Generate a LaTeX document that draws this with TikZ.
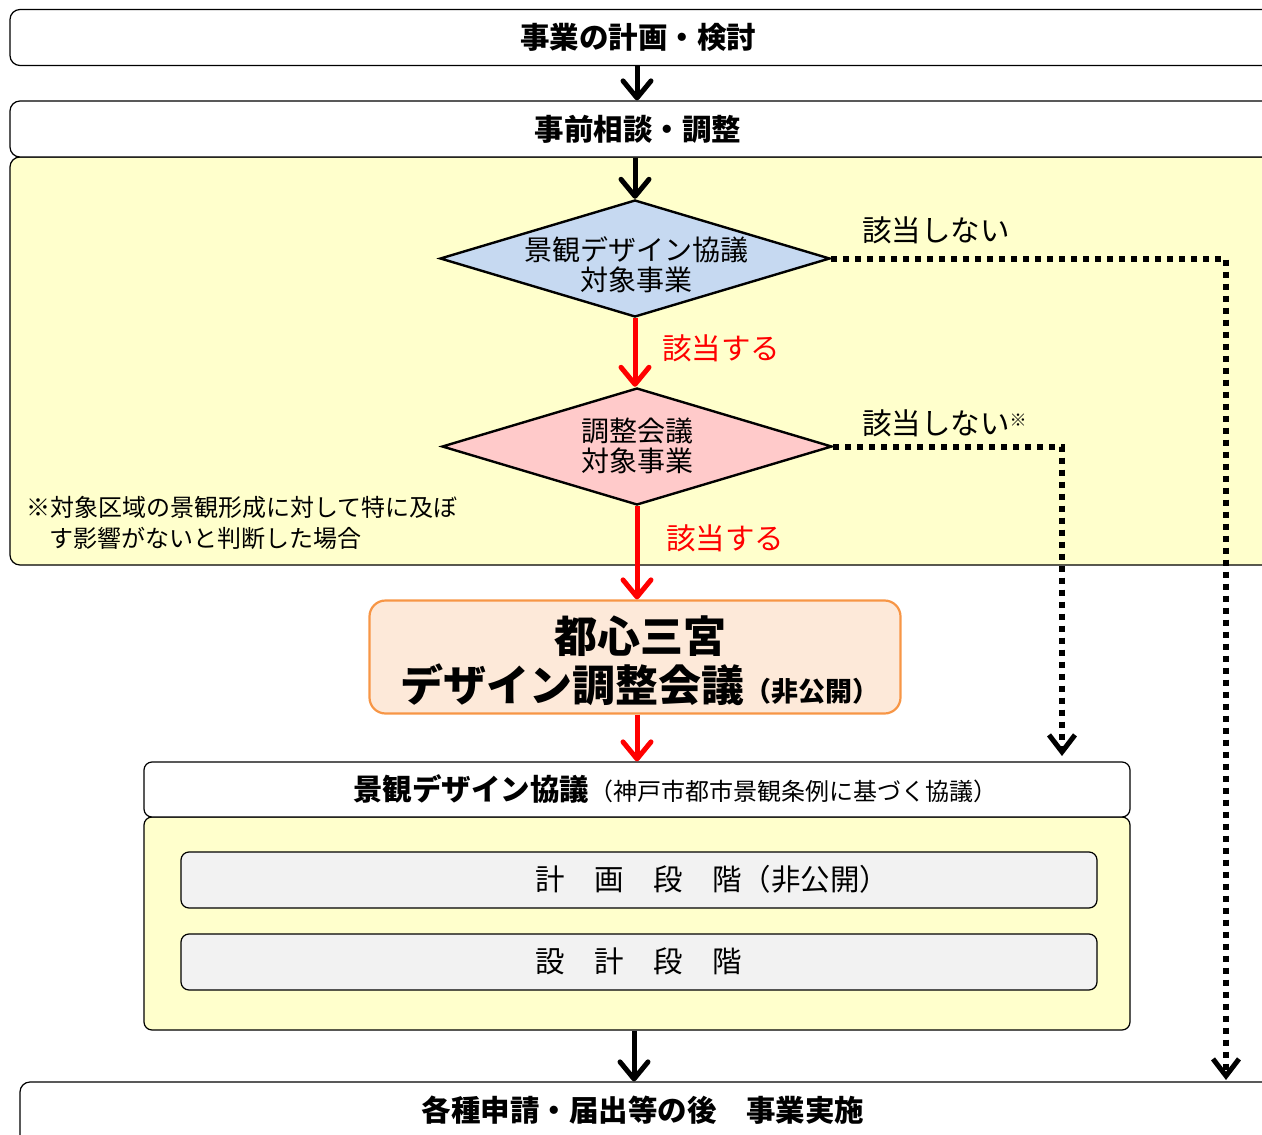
\documentclass[tikz,border=0pt]{standalone}
\usepackage{fontspec}
\setmainfont{Noto Sans CJK JP}
\usetikzlibrary{arrows.meta,shapes.geometric}
\definecolor{yel}{HTML}{FFFFCC}
\definecolor{dblue}{HTML}{C6D9F1}
\definecolor{dpink}{HTML}{FFCACA}
\definecolor{orfill}{HTML}{FDE9D9}
\definecolor{ordraw}{HTML}{F79646}
\definecolor{grayfill}{HTML}{F2F2F2}
\definecolor{tred}{HTML}{FF0000}
\newcommand\myfs[2]{\fontsize{#1pt}{#2pt}\selectfont}
\tikzset{
  boxbase/.style={draw=black, line width=1.2pt, rectangle, inner sep=0pt},
  whitebox/.style={boxbase, fill=white, rounded corners=10pt},
  yelbox/.style={boxbase, fill=yel, rounded corners=10pt},
  stagebox/.style={boxbase, fill=grayfill, rounded corners=8pt},
  decision/.style={diamond, draw=black, line width=2.4pt, inner sep=0pt, minimum width=390pt, minimum height=117pt},
  conn/.style={line width=5pt, -{Straight Barb[length=17pt,width=28pt,line width=5pt,round]}},
  redconn/.style={conn, draw=tred},
  dotconn/.style={line width=6pt, dash pattern=on 6pt off 6pt, -{Straight Barb[length=17pt,width=26pt,line width=5pt]}},
  lbl/.style={inner sep=0pt, font=\myfs{29.5}{32}},
  redlbl/.style={lbl, text=tred},
}
\begin{document}
\begin{tikzpicture}[x=1pt,y=-1pt]
\useasboundingbox (0,0) rectangle (1262,1135);
\clip (0,0) rectangle (1262,1135);

% top box
\node[whitebox, minimum width=1280pt, minimum height=56pt] (plan) at (650,37.5) {};
\node[inner sep=0pt, font=\myfs{29.5}{32}\bfseries] (plant) at (638,37.5) {事業の計画・検討};

% pre-consultation group
\node[yelbox, minimum width=1280pt, minimum height=408pt] (prebody) at (650,361) {};
\node[whitebox, minimum width=1280pt, minimum height=56pt] (pre) at (650,129) {};
\node[inner sep=0pt, font=\myfs{29.5}{32}\bfseries] (pret) at (638,129) {事前相談・調整};

% decisions
\node[decision, fill=dblue] (d1) at (635,258.5) {};
\node[inner sep=0pt, align=center, font=\myfs{28}{30}] (d1t) at (636,265) {景観デザイン協議\\対象事業};
\node[decision, fill=dpink] (d2) at (637,446.5) {};
\node[inner sep=0pt, align=center, font=\myfs{28}{30}] (d2t) at (637,446) {調整会議\\対象事業};

% labels
\node[lbl, anchor=west] (no1) at (862,230) {該当しない};
\node[lbl, anchor=west] (no2) at (862,423) {該当しない{\myfs{17}{17}\raisebox{8pt}{※}}};
\node[redlbl, anchor=west] (yes1) at (662,348) {該当する};
\node[redlbl, anchor=west] (yes2) at (666,538) {該当する};

% note
\node[inner sep=0pt, anchor=west, align=left, font=\myfs{24}{31}] (note) at (26,522.5)
  {※対象区域の景観形成に対して特に及ぼ\\\hspace*{23pt}す影響がないと判断した場合};

% orange box
\node[draw=ordraw, fill=orfill, line width=2.2pt, rounded corners=16pt, inner sep=0pt,
      minimum width=531pt, minimum height=113pt] (org) at (635,657) {};
\node[inner sep=0pt, align=center, font=\myfs{43}{49}\bfseries] (orgt) at (640,661)
  {都心三宮\\デザイン調整会議{\myfs{27}{27}（非公開）}};

% landscape design consultation group
\node[yelbox, rounded corners=8pt, minimum width=986pt, minimum height=213pt] (kb) at (637,923.5) {};
\node[whitebox, rounded corners=8pt, minimum width=986pt, minimum height=55pt] (kh) at (637,789.5) {};
\node[inner sep=0pt, font=\myfs{24}{26}] (kht) at (675,789)
  {{\myfs{29.5}{30}\bfseries 景観デザイン協議}（神戸市都市景観条例に基づく協議）};
\node[stagebox, minimum width=916pt, minimum height=56pt] (s1) at (639,880) {};
\node[stagebox, minimum width=916pt, minimum height=56pt] (s2) at (639,962) {};
\node[lbl, anchor=west] (s1t) at (535,879) {計\hspace{1em}画\hspace{1em}段\hspace{1em}階（非公開）};
\node[lbl, anchor=west] (s2t) at (535,961) {設\hspace{1em}計\hspace{1em}段\hspace{1em}階};

% final box
\node[whitebox, minimum width=1270pt, minimum height=80pt] (fin) at (655,1122) {};
\node[inner sep=0pt, font=\myfs{29.5}{32}\bfseries] (fint) at (643,1110) {各種申請・届出等の後\hspace{1em}事業実施};

% connectors
\draw[conn] (637,0 |- plan.south) -- (637,0 |- pre.north);
\draw[conn] (d1.north |- pre.south) -- (d1.north);
\draw[redconn] (d1.south) -- (d1.south |- d2.north);
\draw[redconn] (d2.south) -- (d2.south |- org.north);
\draw[redconn] (org.south -| d2.south) -- (d2.south |- kh.north);
\draw[conn] (634,0 |- kb.south) -- (634,0 |- fin.north);
\draw[dotconn] (d1.east) -- (1226,0 |- d1.east) -- (1226,1080);
\draw[dotconn] (d2.east) -- (1062,0 |- d2.east) -- (1062,756);
\end{tikzpicture}
\end{document}
